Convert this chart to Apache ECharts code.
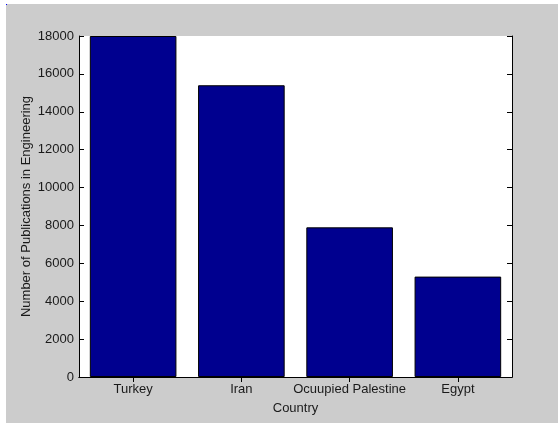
<!DOCTYPE html>
<html>
<head>
<meta charset="utf-8">
<script src="https://cdn.jsdelivr.net/npm/echarts@6/dist/echarts.min.js"></script>
<style>
html,body{margin:0;padding:0;background:#fff;}
#chart{width:559px;height:423px;}
</style>
</head>
<body>
<div id="chart"></div>
<script>
const countries = ['Turkey', 'Iran', 'Ocuupied Palestine', 'Egypt'];
const publications = [18000, 15400, 7900, 5300];
const yTicks = { min: 0, max: 18000, interval: 2000 };

const FONT = '"Liberation Sans", Arial, Helvetica, sans-serif';
const TXT = '#1a1a1a';
const chart = echarts.init(document.getElementById('chart'), null, { renderer: 'canvas' });

chart.setOption({
  animation: false,
  backgroundColor: '#ffffff',
  textStyle: { fontFamily: FONT },
  graphic: [
    { type: 'rect', z: -100, silent: true, shape: { x: 6, y: 4, width: 552, height: 419 }, style: { fill: '#cccccc' } },
    { type: 'rect', z: -99, silent: true, shape: { x: 6, y: 4, width: 1, height: 1 }, style: { fill: '#0000ff' } }
  ],
  grid: {
    left: 79, right: 47, top: 36, bottom: 46,
    show: true, backgroundColor: '#ffffff', borderWidth: 0
  },
  xAxis: [
    {
      type: 'category',
      data: countries,
      position: 'bottom',
      name: 'Country',
      nameLocation: 'middle',
      nameGap: 25,
      nameMoveOverlap: false,
      nameTextStyle: { fontFamily: FONT, fontSize: 13, color: TXT },
      axisLine: { show: true, lineStyle: { color: '#000', width: 1 } },
      axisTick: { show: true, inside: true, length: 5, alignWithLabel: true, lineStyle: { color: '#000' } },
      axisLabel: { show: true, interval: 0, hideOverlap: false, margin: 6, fontFamily: FONT, fontSize: 13, color: TXT },
      splitLine: { show: false }
    },
    {
      type: 'category',
      data: countries,
      position: 'top',
      axisLine: { show: true, lineStyle: { color: '#000', width: 1 } },
      axisTick: { show: true, inside: true, length: 5, alignWithLabel: true, interval: 0, lineStyle: { color: '#000' } },
      axisLabel: { show: false },
      splitLine: { show: false }
    }
  ],
  yAxis: [
    {
      type: 'value',
      min: yTicks.min, max: yTicks.max, interval: yTicks.interval,
      position: 'left',
      name: 'Number of Publications in Engineering',
      nameLocation: 'middle',
      nameGap: 46,
      nameMoveOverlap: false,
      nameRotate: 90,
      nameTextStyle: { fontFamily: FONT, fontSize: 13, color: TXT },
      axisLine: { show: true, lineStyle: { color: '#000', width: 1 } },
      axisTick: { show: true, inside: true, length: 5, lineStyle: { color: '#000' } },
      axisLabel: { show: true, margin: 5, fontFamily: FONT, fontSize: 13, color: TXT, formatter: v => String(v) },
      splitLine: { show: false }
    },
    {
      type: 'value',
      min: yTicks.min, max: yTicks.max, interval: yTicks.interval,
      position: 'right',
      axisLine: { show: true, lineStyle: { color: '#000', width: 1 } },
      axisTick: { show: true, inside: true, length: 5, lineStyle: { color: '#000' } },
      axisLabel: { show: false },
      splitLine: { show: false }
    }
  ],
  series: [
    {
      type: 'bar',
      data: publications,
      xAxisIndex: 0,
      yAxisIndex: 0,
      barWidth: '80%',
      clip: true,
      itemStyle: { color: '#00008f', borderColor: '#000', borderWidth: 1 }
    }
  ]
});
</script>
</body>
</html>
